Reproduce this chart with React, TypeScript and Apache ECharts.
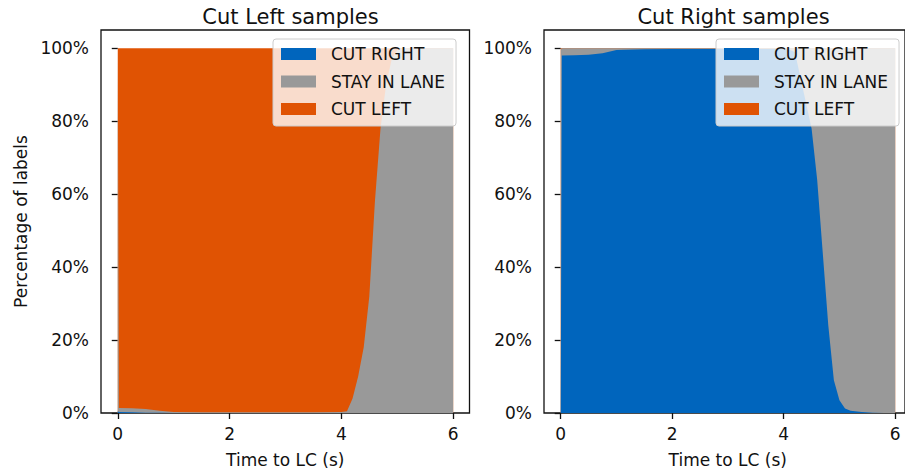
import React, { useEffect, useRef } from "react";
import * as echarts from "echarts";

const times = [0, 0.02, 0.25, 0.5, 0.75, 1.0, 1.5, 2.0, 2.5, 3.0, 3.5, 4.0, 4.1, 4.2, 4.3, 4.4, 4.5, 4.6, 4.7, 4.8, 4.9, 5.0, 5.1, 5.2, 5.4, 5.6, 5.8, 6.0];

const labelNames = ["CUT RIGHT", "STAY IN LANE", "CUT LEFT"];
const panelTitles = ["Cut Left samples", "Cut Right samples"];
const xTicks = [0, 2, 4, 6];
const yTicks = [0, 20, 40, 60, 80, 100];

// Cut Left samples (percent of labels)
const leftCutRight = [0.5, 0.3, 0.2, 0.1, 0.1, 0, 0, 0, 0, 0, 0, 0, 0, 0, 0, 0, 0, 0, 0, 0, 0, 0, 0, 0, 0, 0, 0, 0];
const leftStay = [99.5, 1.1, 1.1, 1.0, 0.5, 0.3, 0.2, 0.2, 0.2, 0.2, 0.2, 0.3, 0.5, 4, 10, 18, 32, 58, 78, 90, 97, 99.5, 100, 100, 100, 100, 100, 100];
const leftCutLeft = [0, 98.6, 98.7, 98.9, 99.4, 99.7, 99.8, 99.8, 99.8, 99.8, 99.8, 99.7, 99.5, 96, 90, 82, 68, 42, 22, 10, 3, 0.5, 0, 0, 0, 0, 0, 0];

// Cut Right samples (percent of labels)
const rightCutRight = [0, 98, 98.1, 98.2, 98.6, 99.5, 99.7, 99.8, 99.8, 99.8, 99.8, 99.8, 99.6, 99, 92, 85, 78, 64, 44, 24, 9, 3.5, 1.2, 0.6, 0.3, 0.1, 0, 0];
const rightStay = [99.5, 2, 1.9, 1.8, 1.4, 0.5, 0.3, 0.2, 0.2, 0.2, 0.2, 0.2, 0.4, 1, 8, 15, 22, 36, 56, 76, 91, 96.5, 98.8, 99.4, 99.7, 99.9, 100, 100];
const rightCutLeft = [0.5, 0, 0, 0, 0, 0, 0, 0, 0, 0, 0, 0, 0, 0, 0, 0, 0, 0, 0, 0, 0, 0, 0, 0, 0, 0, 0, 0];

const COLORS = ["#0065bd", "#999999", "#e05303"];
const FONT = "DejaVu Sans";

export default function App() {
  const ref = useRef<HTMLDivElement>(null);
  useEffect(() => {
    if (!ref.current) return;
    const chart = echarts.init(ref.current, null, { renderer: "svg" });
    const panels = [
      [leftCutRight, leftStay, leftCutLeft],
      [rightCutRight, rightStay, rightCutLeft],
    ];
    const pxPerSec = 55.9;
    const gridLefts = [101, 544];
    const gridWidths = [368.5, 362];
    const xMaxes = gridWidths.map((w) => -0.3 + w / pxPerSec);
    const series: any[] = [];
    panels.forEach((arrs, p) => {
      // cumulative tops, drawn from the top layer down so lower layers paint over
      const cum = arrs.map((_, s) => times.map((_, k) => {
        let sum = 0;
        for (let j = 0; j <= s; j++) sum += arrs[j][k];
        return sum;
      }));
      for (let s = arrs.length - 1; s >= 0; s--) {
        series.push({
          type: "line",
          name: labelNames[s],
          xAxisIndex: p,
          yAxisIndex: p,
          showSymbol: false,
          symbol: "none",
          lineStyle: { width: 0, color: COLORS[s] },
          itemStyle: { color: COLORS[s] },
          areaStyle: { color: COLORS[s], opacity: 1, origin: "start" },
          data: times.map((t, k) => [t, cum[s][k]]),
        });
      }
    });
    const axisText = { color: "#111", fontFamily: FONT, fontSize: 17 };
    chart.setOption({
      animation: false,
      color: COLORS,
      textStyle: { fontFamily: FONT },
      title: panelTitles.map((t, p) => ({
        text: t,
        left: gridLefts[p] + 184.5,
        top: 1,
        textAlign: "center",
        textStyle: { fontFamily: FONT, fontSize: 21, fontWeight: "normal", color: "#111" },
      })),
      grid: gridLefts.map((l, p) => ({
        left: l,
        top: 30,
        width: gridWidths[p],
        height: 383,
        show: true,
        borderColor: "#111",
        borderWidth: 1.3,
        backgroundColor: "transparent",
        containLabel: false,
      })),
      legend: gridLefts.map((l, p) => ({
        show: true,
        orient: "vertical",
        left: p === 0 ? 273 : 716,
        top: 39,
        data: labelNames,
        icon: "rect",
        itemWidth: 35,
        itemHeight: 12,
        itemGap: 9.5,
        selectedMode: false,
        padding: [6, 11, 8, 8],
        backgroundColor: "rgba(255,255,255,0.8)",
        borderColor: "#cccccc",
        borderWidth: 1,
        borderRadius: 3,
        z: 10,
        textStyle: { fontFamily: FONT, fontSize: 17, color: "#111", lineHeight: 18, padding: [0, 0, 0, 10] },
      })),
      xAxis: gridLefts.map((_, p) => ({
        type: "value",
        gridIndex: p,
        min: -0.3,
        max: xMaxes[p],
        name: "Time to LC (s)",
        nameLocation: "center",
        nameGap: 38,
        nameTextStyle: { ...axisText, padding: p === 1 ? [0, 0, 0, 0] : 0 },
        axisLine: { show: false },
        splitLine: { show: false },
        axisTick: { show: true, inside: false, length: 6, customValues: xTicks, lineStyle: { color: "#111", width: 1.3 } },
        axisLabel: { show: true, margin: 12, customValues: xTicks, formatter: (v: number) => String(v), ...axisText },
      })),
      yAxis: gridLefts.map((_, p) => ({
        type: "value",
        gridIndex: p,
        min: 0,
        max: 105,
        name: p === 0 ? "Percentage of labels" : "",
        nameLocation: "middle",
        nameGap: 72,
        nameTextStyle: { ...axisText },
        axisLine: { show: false },
        splitLine: { show: false },
        axisTick: { show: true, inside: false, length: 6, customValues: yTicks, lineStyle: { color: "#111", width: 1.3 } },
        axisLabel: { show: true, margin: 12, customValues: yTicks, formatter: (v: number) => Math.round(v) + "%", ...axisText },
      })),
      graphic: [
        {
          type: "text",
          left: 0,
          top: 0,
          invisible: true,
          style: { text: "" },
        },
      ],
      series,
    });
    // centre the right panel's x-axis name on the full (uncropped) axes width
    chart.setOption({
      xAxis: [{}, { nameTextStyle: { padding: [0, 0, 0, 2 * (368.5 - 362) / 2] } }],
    });
    return () => chart.dispose();
  }, []);
  return (
    <div
      ref={ref}
      style={{ position: "absolute", left: 0, top: 0, width: 905, height: 474, background: "#fff" }}
    />
  );
}
